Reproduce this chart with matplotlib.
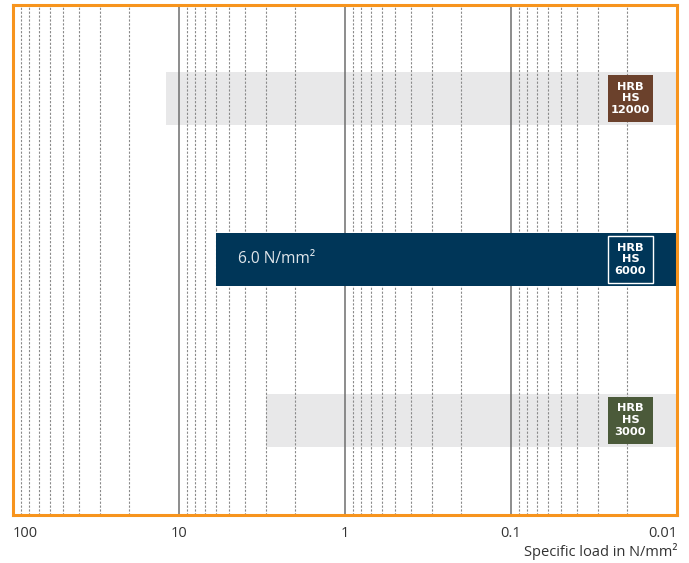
import matplotlib
matplotlib.use("Agg")
import matplotlib.pyplot as plt
from matplotlib.patches import Rectangle
import numpy as np

# Data
products = ["HRB\nHS\n3000", "HRB\nHS\n6000", "HRB\nHS\n12000"]
max_load = [3.0, 6.0, 12.0]          # N/mm², bar starts here and extends to 0.01
bar_colors = ["#e8e8e9", "#003658", "#e8e8e9"]
badge_colors = ["#4b5a3a", "#003658", "#6b412c"]
highlight_label = "6.0 N/mm²"
tick_values = [100, 10, 1, 0.1, 0.01]
tick_labels = ["100", "10", "1", "0.1", "0.01"]
xlabel = "Specific load in N/mm²"

plt.rcParams['font.family'] = ['Open Sans', 'DejaVu Sans']

fig = plt.figure(figsize=(6.89, 5.63), dpi=100)
ax = fig.add_axes([13/689, 1-515/563, 664/689, 510/563])
ax.set_xscale("log")
ax.set_xlim(100, 0.01)
ax.set_ylim(-0.59, 2.58)

# grid lines
for dec in [100, 10, 1, 0.1]:
    for m in range(2, 10):
        ax.axvline(dec * m / 10, color="#8a8a8a", lw=0.8, ls=(0, (2, 1.5)), zorder=2)
for dec in [10, 1, 0.1]:
    ax.axvline(dec, color="#6e6e6e", lw=1.1, zorder=2)

bh = 0.33
xmin = 0.01
for i, (v, c) in enumerate(zip(max_load, bar_colors)):
    z = 3 if c == "#003658" else 1
    ax.barh(i, xmin - v, left=v, height=bh, color=c, zorder=z, align="center")

# badges
bx0, bx1 = 0.0261, 0.01396
bhh = 0.292
for i, (lab, bc) in enumerate(zip(products, badge_colors)):
    ec = "white" if bc == "#003658" else "none"
    rect = Rectangle((bx0, i - bhh/2), bx1 - bx0, bhh, facecolor=bc,
                     edgecolor=ec, lw=1.0, zorder=5)
    ax.add_patch(rect)
    xc = np.sqrt(bx0 * bx1)
    ax.text(xc, i, lab, ha="center", va="center", color="white",
            fontsize=8.2, fontweight="bold", linespacing=1.2, zorder=6,
            family=["DejaVu Sans"])

ax.text(4.43, 1, highlight_label, ha="left", va="center", color="#dfe5ea",
        fontsize=11.2, zorder=6)

ax.set_yticks([])
ax.set_xticks(tick_values)
ax.set_xticklabels(tick_labels)
ax.xaxis.set_minor_locator(matplotlib.ticker.NullLocator())
ax.tick_params(axis="x", length=0, pad=8, labelsize=10.5, labelcolor="#333333")
labs = ax.get_xticklabels()
labs[0].set_ha("left")
labs[-1].set_ha("right")

for s in ax.spines.values():
    s.set_color("#f7941d")
    s.set_linewidth(2.2)
    s.set_zorder(10)

fig.text(677/689, 1-551/563, xlabel, ha="right", va="center", fontsize=10.5,
         color="#333333")

fig.savefig("out.png", dpi=100)
